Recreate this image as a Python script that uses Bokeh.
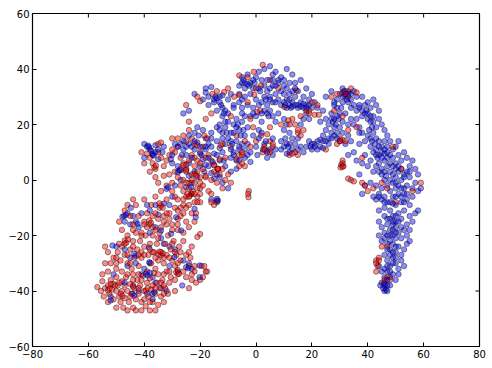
from bokeh.embed import file_html
from bokeh.resources import INLINE
from bokeh.plotting import figure
from bokeh.models import FixedTicker, Range1d

x_ticks = [-80, -60, -40, -20, 0, 20, 40, 60, 80]
y_ticks = [-60, -40, -20, 0, 20, 40, 60]

blue_points = [
 (-40,13),(-39,12),(-37.5,10.5),(-37,9),(-38,11),(-36,12.5),(-35,7.5),(-33.5,10),(-30.5,7.5),(-30,6),(-28,5),(-27,3.5),
 (-24,13),(-23,12),(-22,11),(-21,13.5),(-19.5,9),(-19,7.5),(-18,11),(-17,13),(-16,12),(-15,9.5),(-14,14),(-13,11.5),
 (-12,10),(-11,13),(-10,15),(-11.5,7),(-20,5),(-18.5,3),(-17,5),(-16,2.5),(-15,0.5),(-21,1),(-22,3),(-23,-1),
 (-24,6),(-25,9),(-26,11),(-27,13),(-18,15),(-16,17),(-14,19),(-19,18),(-21,19),(-22,17),(-20.5,16),(-12,17),
 (-41,-12),(-39,-9),(-38,-11),(-36,-9),(-35,-12.5),(-33,-8.5),(-31,-9),(-30,-6),(-29,-2),(-27,0),(-25,-2.5),(-24,1.5),
 (-44,-13),(-43,-15),(-45,-16),(-47,-15),(-46,-12),(-42,-17),(-38,-19),(-36,-17),(-34,-21),(-33,-23),(-31,-24),(-29,-25),
 (-47,-25),(-45,-28),(-43,-30),(-40,-32),(-41,-34),(-38,-30),(-37,-35),(-36,-37),(-44,-38),(-42,-40),(-39,-41),(-37,-43),
 (-34,-39),(-32,-40),(-31,-31),(-28,-33),(-26,-29),(-24,-30),(-23,-32),(-52,-42),(-51,-34),(-50,-24),(-46,-31),(-26.4,-38),
 (-26,24),(-24,25),(-22,31),(-19,29),(-18,33),(-16,33.5),(-15,29),(-13,28),(-12,30.5),(-10,29),(-9,31),(-8,27),
 (-17,27),(-14,25),(-12,23),(-10,24),(-13,20),(-11,19),(-9,17),(-8,20),(-7,22),(-6,18),(-5,21),(-4,16),
 (-3,19),(-2,23),(-1,26),(-3,27),(-5,26),(-7,14),(-5,13),(-8,10),(-6,12),(-4,11),(-2,10),(0,12),
 (-9,8),(-7,7),(-4,8),(-2,6.5),(-3,13),(-1,16),(1,18),(2,21),(3,13),(5,11),(6,9),(4,8),
 (-6,34),(-5,37),(-4,35),(-3,38),(-2,35),(-1,33),(0,37),(1,39),(2,36),(3,34),(4,32),(5,30),
 (-6,31),(-4,30),(-2,31),(0,29),(1,27),(2,28),(3,25),(4,27),(5,25),(6,23),(7,21),(8,24),
 (3,40),(5,41),(6,38),(7,39),(8,36),(9,37),(11,40),(10,34),(12,35),(13,38),(14,35),(16,36),
 (6,34),(7,31),(8,29),(10,31),(11,29),(12,31),(13,28),(14,30),(15,32),(17,30),(18,33),(20,31),
 (9,27),(11,26),(12,27),(14,27),(15,26),(16,28),(17,26),(18,27),(19,29),(20,26),(21,28),(22,26),
 (10,22),(10,18),(11,20),(12,17),(13,15),(9,14),(9,11),(10,12),(11,9.5),(12,13),(14,13),(15,15),
 (16,20),(17,22),(18,24),(19,22),(15,11),(16,12),(17,10),(18,12),(19,14),(20,11),(21,13),(22,11),
 (-7,4),(-9,3),(-11,5),(-13,7),(-10,-3),(-12,-1),(-14,2),(-16,-7),(-14,-8),(-8,26),(-6,28),(-25,4),
 (22,14),(23,12),(24,16),(25,18),(26,13),(27,15),(28,19),(29,17),(30,14),(31,17),(32,13),(33,16),
 (23,21),(24,25),(25,22),(26,20),(27,24),(28,22),(29,26),(30,24),(31,21),(32,24),(33,20),(34,22),
 (25,30),(27,32),(29,29),(30,31),(31,33),(32,30),(33,32),(34,31),(35,32),(36,30),(33,28),(35,27),
 (28,28),(31,28),(34,26),(36,25),(37,27),(35,20),(36,22),(37,19),(38,23),(38,17),(39,14),(37,13),
 (38,30),(40,28),(41,26),(42,29),(43,27),(44,25),(39,24),(40,22),(41,23),(42,21),(43,19),(44,22),
 (45,20),(46,18),(47,16),(42,17),(43,15),(44,14),(40,16),(41,12),(42,10),(43,11),(44,9),(45,12),
 (46,14),(47,12),(48,9),(39,9),(38,6),(40,5),(41,7),(42,3),(43,5),(44,6),(45,4),(46,7),
 (47,5),(48,3),(49,8),(50,6),(51,9),(52,7),(53,10),(54,8),(55,5),(56,7),(57,4),(58,2),
 (49,2),(50,-1),(51,3),(52,0),(53,2),(54,-2),(55,1),(56,-3),(57,-1),(58,-4),(59,-3),(46,0),
 (47,-2),(48,-4),(45,-3),(44,-5),(43,-7),(42,-6),(46,-6),(47,-8),(49,-6),(50,-9),(51,-5),(52,-8),
 (53,-5),(54,-7),(55,-9),(56,-6),(48,-11),(49,-13),(50,-15),(51,-12),(52,-14),(53,-11),(54,-16),(55,-13),
 (56,-15),(57,-12),(58,-11),(44,-15),(45,-17),(46,-13),(47,-16),(48,-18),(49,-20),(50,-17),(51,-19),(52,-21),
 (53,-18),(54,-20),(55,-18),(44,-20),(45,-22),(46,-21),(47,-23),(48,-25),(49,-23),(50,-26),(51,-24),(52,-27),
 (53,-25),(54,-23),(55,-22),(46,-27),(47,-29),(48,-31),(49,-28),(50,-30),(51,-32),(52,-29),(53,-31),(44,-31),
 (45,-33),(46,-35),(47,-33),(48,-35),(49,-34),(50,-36),(51,-34),(45,-37),(46,-38),(46.5,-39.5),(44.5,-38),(48,-38),
 (38,-5),(39,-2),(41,-1),(36,7),(35,10),(37,2),(34,14),(33,9),(48,14),(50,12),(51,14),(43,-2),
 (45,8),(47,10),(49,11),(52,4),(50,1),(53,-3),(46,-10),(44,-11),(50,-21),(48,-22),(52,-17),(49,-16),
]

red_points = [
 (-56.8,-38.6),(-55,-36.5),(-54,-39),(-53,-38),(-52.5,-41),(-52,-36),(-51.5,-39.5),(-51,-37.5),(-51,-43),(-50,-40),
 (-50,-35),(-49.5,-38),(-49,-42),(-48.5,-44),(-48,-36.5),(-48,-40),(-47.5,-46),(-47,-38),(-47,-42.5),(-46.5,-35),
 (-46,-40),(-45.5,-44),(-45,-37.5),(-44.5,-41),(-44,-46),(-44,-34),(-43.5,-39),(-43,-43),(-42.5,-36),(-42,-41),
 (-41.5,-38),(-41,-44),(-40.5,-34.5),(-40,-40),(-39.5,-45.5),(-39,-37),(-38.5,-42),(-38,-35.5),(-38,-47),(-37.5,-39.5),
 (-37,-44),(-36.5,-33.5),(-36,-41),(-35.5,-37),(-35,-45),(-35,-34),(-34.5,-39),(-34,-42),(-33.5,-36),(-33,-44),
 (-32.5,-39),(-32,-33),(-31.5,-41),(-31,-37),(-30.5,-35),(-55.5,-40),(-54.5,-42),(-53,-44),(-46,-47),(-41,-47),
 (-54,-24),(-53,-26),(-52,-30),(-53,-33),(-51,-28),(-50,-32),(-49.5,-26),(-48.5,-29),(-48,-33),(-47,-23),
 (-47,-27),(-46,-30),(-46,-20),(-45,-25),(-44.5,-32),(-44,-22),(-43.5,-28),(-43,-19),(-42.5,-25),(-42,-31),
 (-41.5,-22),(-41,-28),(-40,-24),(-39.5,-20),(-39,-33),(-38.5,-27),(-38,-23),(-37.5,-30),(-37,-20),(-36.5,-26),
 (-36,-32),(-35.5,-23),(-35,-29),(-34.5,-19),(-34,-26),(-33,-30),(-32.5,-23),(-32,-27),(-31.5,-20),(-31,-33),
 (-30.5,-25),(-30,-29),(-29.5,-22),(-29,-31),(-28.5,-27),(-28,-34),(-27.5,-24),(-27,-29),(-26,-33),(-26,-22),
 (-25,-27),(-25,-35),(-24,-31),(-23.5,-28),(-23,-36),(-22,-33),(-21,-20.5),(-20,-19.5),(-19.5,-31),(-19,-35),
 (-18.5,-31),(-18,-33),(-20,-36),(-21.5,-37),(-17.5,-33),(-42,-34),(-46,-34),(-33,-34),(-29,-36),(-24,-39),
 (-49,-15),(-48,-18),(-47,-11),(-46,-9),(-45,-13),(-44,-18),(-43,-9),(-42,-13),(-41,-20),(-40,-15),
 (-39,-12),(-38,-16),(-37.5,-9),(-37,-13),(-36,-18),(-35,-14),(-34.5,-10),(-34,-17),(-33,-13),(-32,-16),
 (-31,-12),(-30,-16),(-29,-10),(-28,-14),(-29,-6),(-28,-7),(-27,-10),(-26,-12),(-25,-6),(-25,-15),
 (-24,-9),(-23,-12),(-22,-8),(-26,-4),(-27,-2),(-24,-3),(-23,-5),(-22,-1),(-21,-6),(-20,-3),
 (-44,-7),(-40,-7),(-36,-6),(-32,-7),(-30,-4),(-34,-4),(-28,-18),(-26,-19),(-24,-17),(-22,-15),
 (-30,-18),(-21.5,-12),(-20,-8),(-16,-8),(-14,-7.5),(-15,-9),(-2.6,-4),(-2.8,-5),(-2.7,-6.2),(-26,-9),
 (-38,3),(-36,1),(-35,-1),(-33,1.5),(-32,-2),(-31,2),(-30,-1),(-29,3),(-28,1),(-27,4),
 (-26,0),(-25,3),(-24,-1),(-23,2),(-22,5),(-21,3),(-20,1),(-19,-2),(-18,1),(-17,-4),
 (-16,0),(-15,3),(-14,-1),(-13,2),(-12,-3),(-11,0),(-10,2),(-9,-1),(-24,7),(-26,6),
 (-27,8),(-25,5.5),(-23,9),(-22,8),(-21,7),(-20,10),(-19,12),(-28,12),(-29,10),(-30,11),
 (-31,9),(-32,7),(-33,5),(-34,8),(-35,10),(-36,4),(-37,6),(-38,8),(-39,9.5),(-40,6),
 (-41,10),(-35,13),(-34,13.5),(-30,15),(-28,15),(-26,16),(-25,14),(-24,18),(-23,15),(-17,9),
 (-16,7),(-15,5.5),(-13.5,4),(-12,4),(-11,8),(-26,5.3),(-25,3.5),(-20,6),(-18,8),(-19,4),
 (-21,30),(-20,28.4),(-15.6,31),(-14,32),(-11.4,31.7),(-7.8,30),(-6,30.5),(-6,37.7),(-0.8,39),(2.4,41.5),
 (1.8,34),(5,36),(14.4,32.3),(-0.6,30.7),(0.4,24.5),(1.5,25),(10.2,26.3),(11.6,21.5),(15,17),(16,16),
 (12,9),(15,9),(19,25),(21,23.5),(22.5,23.5),(-6,9),(-5,9),(-7,7.5),(-6,5),(-4,5),
 (2.4,10),(4,10.5),(1.8,16),(4,16.5),(0,14),(-12.6,12.5),(-12,13),(-17.4,15),(-18.5,16),(-22,13),
 (-21,12.5),(-15,5.3),(-13.8,4),(-13,7.5),(-9,23),(-3,28),(-2,22),(-1,19),(5,19),(13,22),
 (14,20),(17,18),(3,12),(5,14),(6,12),(-9,12),(-7,16),(-4,14),(-2,12),(-16,24),
 (-18,22),(-24,21),(-25,27),(-10,33),(-3,37),(0,33),(8,33),(18,25),(16,23),(9,20),
 (34,33),(29,31),(33,30),(27,30),(31,31.5),(32,32),(36,31.5),(22,27),(19,24),(20,28),
 (25,11),(30,15),(31,14.5),(32,14),(29,13),(33,18),(28,25),(31,23),(36,19),(38,8),
 (31,7),(30.5,5.5),(31.3,5),(30.3,4.5),(33,0.5),(34,0),(35,-0.5),(38,-1),(40,-4),(39,-2),
 (44,-28),(43,-29),(43.5,-31),(43,-33),(46,-37),(47,-35),(48,-36),(46,-36),(45,-24),(47,-24),
 (52,4),(45,-1),(47,-3),(50,-8),(56,-4),(59,-1),(49,12),(42,-3),
]

# points that lie on top of the others, in the tight clumps of the picture
top_blue_points = [
 (-37,9.4),(-36.6,8.8),(-38.2,11.8),(-38.6,12.4),(-36,10),(-28,2.8),(-27.5,3.4),(-32,-3.2),(-31.5,-2.6),(-23.2,-2.6),
 (-13.6,-7.4),(-14,-6.8),(-47.2,-13),(-47.8,-13.2),(-46.6,-12.6),(-44.8,-10),(-42.4,-15.8),(-28.6,-13.4),(-22,-10.4),(-21.6,-13.4),
 (-51.4,-23.6),(-43.6,-26.6),(-43,-27.4),(-38.2,-29.6),(-39.4,-33.8),(-38.8,-34.4),(-38,-33.4),(-25,-31.4),(-24.2,-31.8),(-20.2,-35),
 (-20.2,-30.8),(-44.2,-41),(-43.6,-41.6),(-52,-43.4),(-37,-41),(-36.4,-40.4),(-30.4,-19.4),(-34,-18.2),(-26.8,-18.2),(-38.3,-24.4),
 (-29.2,-27.8),(-47,-37),(-26.5,9),(-20,9.5),(-18,5.5),(-15.5,6.5),(-14,9),(-13,1),(-18,12),(-25,12),
 (-15,28),(-14.5,30),(-14,29.5),(-18,31.5),(-17,30),(-13,30),(-12.5,27),(-12,26),(-11,25),(-11.5,24),
 (-5,35),(-4.5,36),(-4,33),(-2.5,34),(-3,34.5),(-1,36),(-0.5,35),(1,33),(1.5,32),(3,30),
 (3.5,29),(5,29),(6,28),(4,24),(2,24),(4.5,23),(0,23),(-1,24),(-4,23),(-5,24),
 (-11,21),(-10.5,17),(-7,19),(-6.5,20),(-4.5,18),(-9,14),(-8.5,13),(-6,11),(-8,9),(-5.5,16),
 (1,15),(2.5,11),(3.5,14),(4,10),(6,15),(2,17),(0.5,9),(7,11),(-6,7),(-3,9),
 (10,28),(10.5,27),(12.5,26),(13,26.5),(15,27),(16,26.5),(17,27.5),(18,26),(19,27),(12,29),
 (13,32),(14,33),(11,33),(7,34),(8,35),(6,36),(9,32),(10,36),(5,33),(4,36),
 (11,13),(11.5,12),(13,11),(12,10),(10.5,15),(20,13),(19.5,12),(21,12),(24,14),(23,14.5),
 (25,14),(26,15),(24,11.5),(27,17),(28,16),(29,15),(27.5,21),(28.5,20),(27,22),(29.5,22),
 (30,19),(29,23),(28,27),(30.5,26),(31,30),(32,31),(33,31),(32.5,29),(31.5,32),(34,29),
 (37,26),(38,25),(39,27),(39.5,25),(40,24),(41,21),(41.5,19),(42,23),(40.5,18),(37,17),
 (41,15),(41.5,14),(42.5,13),(43,9),(43.5,8),(44,12),(45,10),(46,11),(46,9.5),(47,8),
 (44,3),(45,2),(46,3),(46.5,1.5),(48,6),(49,5),(50,4),(51,5),(48,0),(49,-1),
 (50,-3),(51,-2),(52,-3),(53,1),(54,3),(55,3),(53,-8),(54,-5),(52,-6),(50,-6),
 (44,-6),(45,-7),(46,-8),(48,-8),(49,-8.5),(47,-14),(48,-14),(49,-15),(50,-13),(51,-15),
 (46,-19),(47,-20),(48,-20),(49,-18),(50,-19),(47,-25),(48,-27),(49,-26),(50,-24),(49,-30),
 (50,-28),(47,-31),(46,-32),(48,-33),(47,-36),(46,-37.5),(47,-38),(46,-40),(47,-40),(45.5,-39),
 (-28,12),(-26,14),(-23,8),(-22,14),(-20,12),(-17,8),(-12,15),(-9,11),(-8,17),(-10,21),
 (-24,16),(-16,15),(-13,18),(-29,13),(-30,9),(-33,12),(-40,8),(-35,11),(-5,29),(7,28),
]

top_red_points = [
 (-34,-27.2),(-33.4,-26.4),(-35,-26.8),(-34.5,-25.8),(-33,-28),(-47,-21.8),(-46.4,-22.6),(-45.8,-21.4),(-38.2,-14.6),(-37.6,-15.4),
 (-34,-9.2),(-33.4,-10),(-34.6,-8.4),(-23.2,-5),(-22.6,-4.2),(-23.8,-5.8),(-28.6,-33.2),(-28,-32.4),(-27.6,-33.8),(-53,-39.8),
 (-52.4,-39),(-48.4,-41),(-47.8,-41.8),(-39.4,-39.8),(-38.8,-39),(-36.4,4.6),(-35.8,5.2),(-22,2.2),(-21.4,1.6),(-13.6,4),
 (-45,-42),(-44,-38.5),(-42,-39),(-41,-36),(-49,-37),(-50.5,-38),(-52,-37.5),(-44,-36),(-37,-38),(-36,-39),
 (-34,-37),(-33,-38),(-40,-43),(-38,-44),(-48,-24),(-49,-23),(-50,-30),(-46,-27),(-45,-30),(-42,-27),
 (-41,-26),(-40,-27),(-37,-26),(-36,-28),(-30,-23),(-29,-26),(-28,-30),(-24,-26),(-23,-24),(-22,-31),
 (-40,-16),(-39,-17),(-37,-17),(-36,-12),(-33,-15),(-32,-12),(-28,-11),(-27,-13),(-26,-7),(-25,-10),
 (-24,-6),(-24.5,-5),(-22,-5),(-21,-3),(-25,-1),(-23,0),(-20,-1),(-21,-8),
 (-18,1.5),(-20,-5),(-16,-5),(5,10),(3,11),(6,13),(-5,6),(-5,10),
 (14,10),(13,9.5),(15,18),(12,20),(31,6),(31,4.8),(30,14),(44,-29),(43,-30),(32,31),
 (-50,-46),(-43,-47),(-36,-47),(-33,-41),(-29,-40),(-55,-34),(-54,-30),(-50,-28),(-44,-24),(-38,-25),
 (-35,-21),(-31,-28),(-27,-26),(-23,-34),(-41,-19),(-44,-16),(-31,-14),(-28,-16),
]

p = figure(width=492, height=368, output_backend="svg", toolbar_location=None,
           x_range=Range1d(-80, 80), y_range=Range1d(-60, 60),
           min_border_left=32, min_border_right=13, min_border_top=13, min_border_bottom=22,
           background_fill_color="white", border_fill_color="white",
           outline_line_color="black", outline_line_width=1.2)
p.frame_width = 447
p.frame_height = 333
p.xgrid.visible = False
p.ygrid.visible = False

for axis, ticks in ((p.xaxis[0], x_ticks), (p.yaxis[0], y_ticks)):
    axis.ticker = FixedTicker(ticks=ticks)
    axis.major_tick_in = 4
    axis.major_tick_out = 0
    axis.minor_tick_in = 0
    axis.minor_tick_out = 0
    axis.axis_line_color = None
    axis.major_tick_line_color = "black"
    axis.major_label_text_font = "DejaVu Sans"
    axis.major_label_text_font_size = "10px"
    axis.major_label_text_color = "black"
    axis.major_label_standoff = 3

# inward ticks on the top and right edges of the frame
tick_x_len = 4 * 160 / 447
tick_y_len = 4 * 120 / 333
p.segment(x_ticks, [60] * len(x_ticks), x_ticks, [60 - tick_y_len] * len(x_ticks), line_color="black", line_width=1)
p.segment([80] * len(y_ticks), y_ticks, [80 - tick_x_len] * len(y_ticks), y_ticks, line_color="black", line_width=1)

for pts, col in ((blue_points, "#0000ff"), (red_points, "#ff0000"),
                 (top_blue_points, "#0000ff"), (top_red_points, "#ff0000")):
    p.scatter([q[0] for q in pts], [q[1] for q in pts], size=5.5,
              fill_color=col, fill_alpha=0.45, line_color="black", line_alpha=0.4, line_width=1)

open("out.html", "w").write(file_html(p, INLINE))
